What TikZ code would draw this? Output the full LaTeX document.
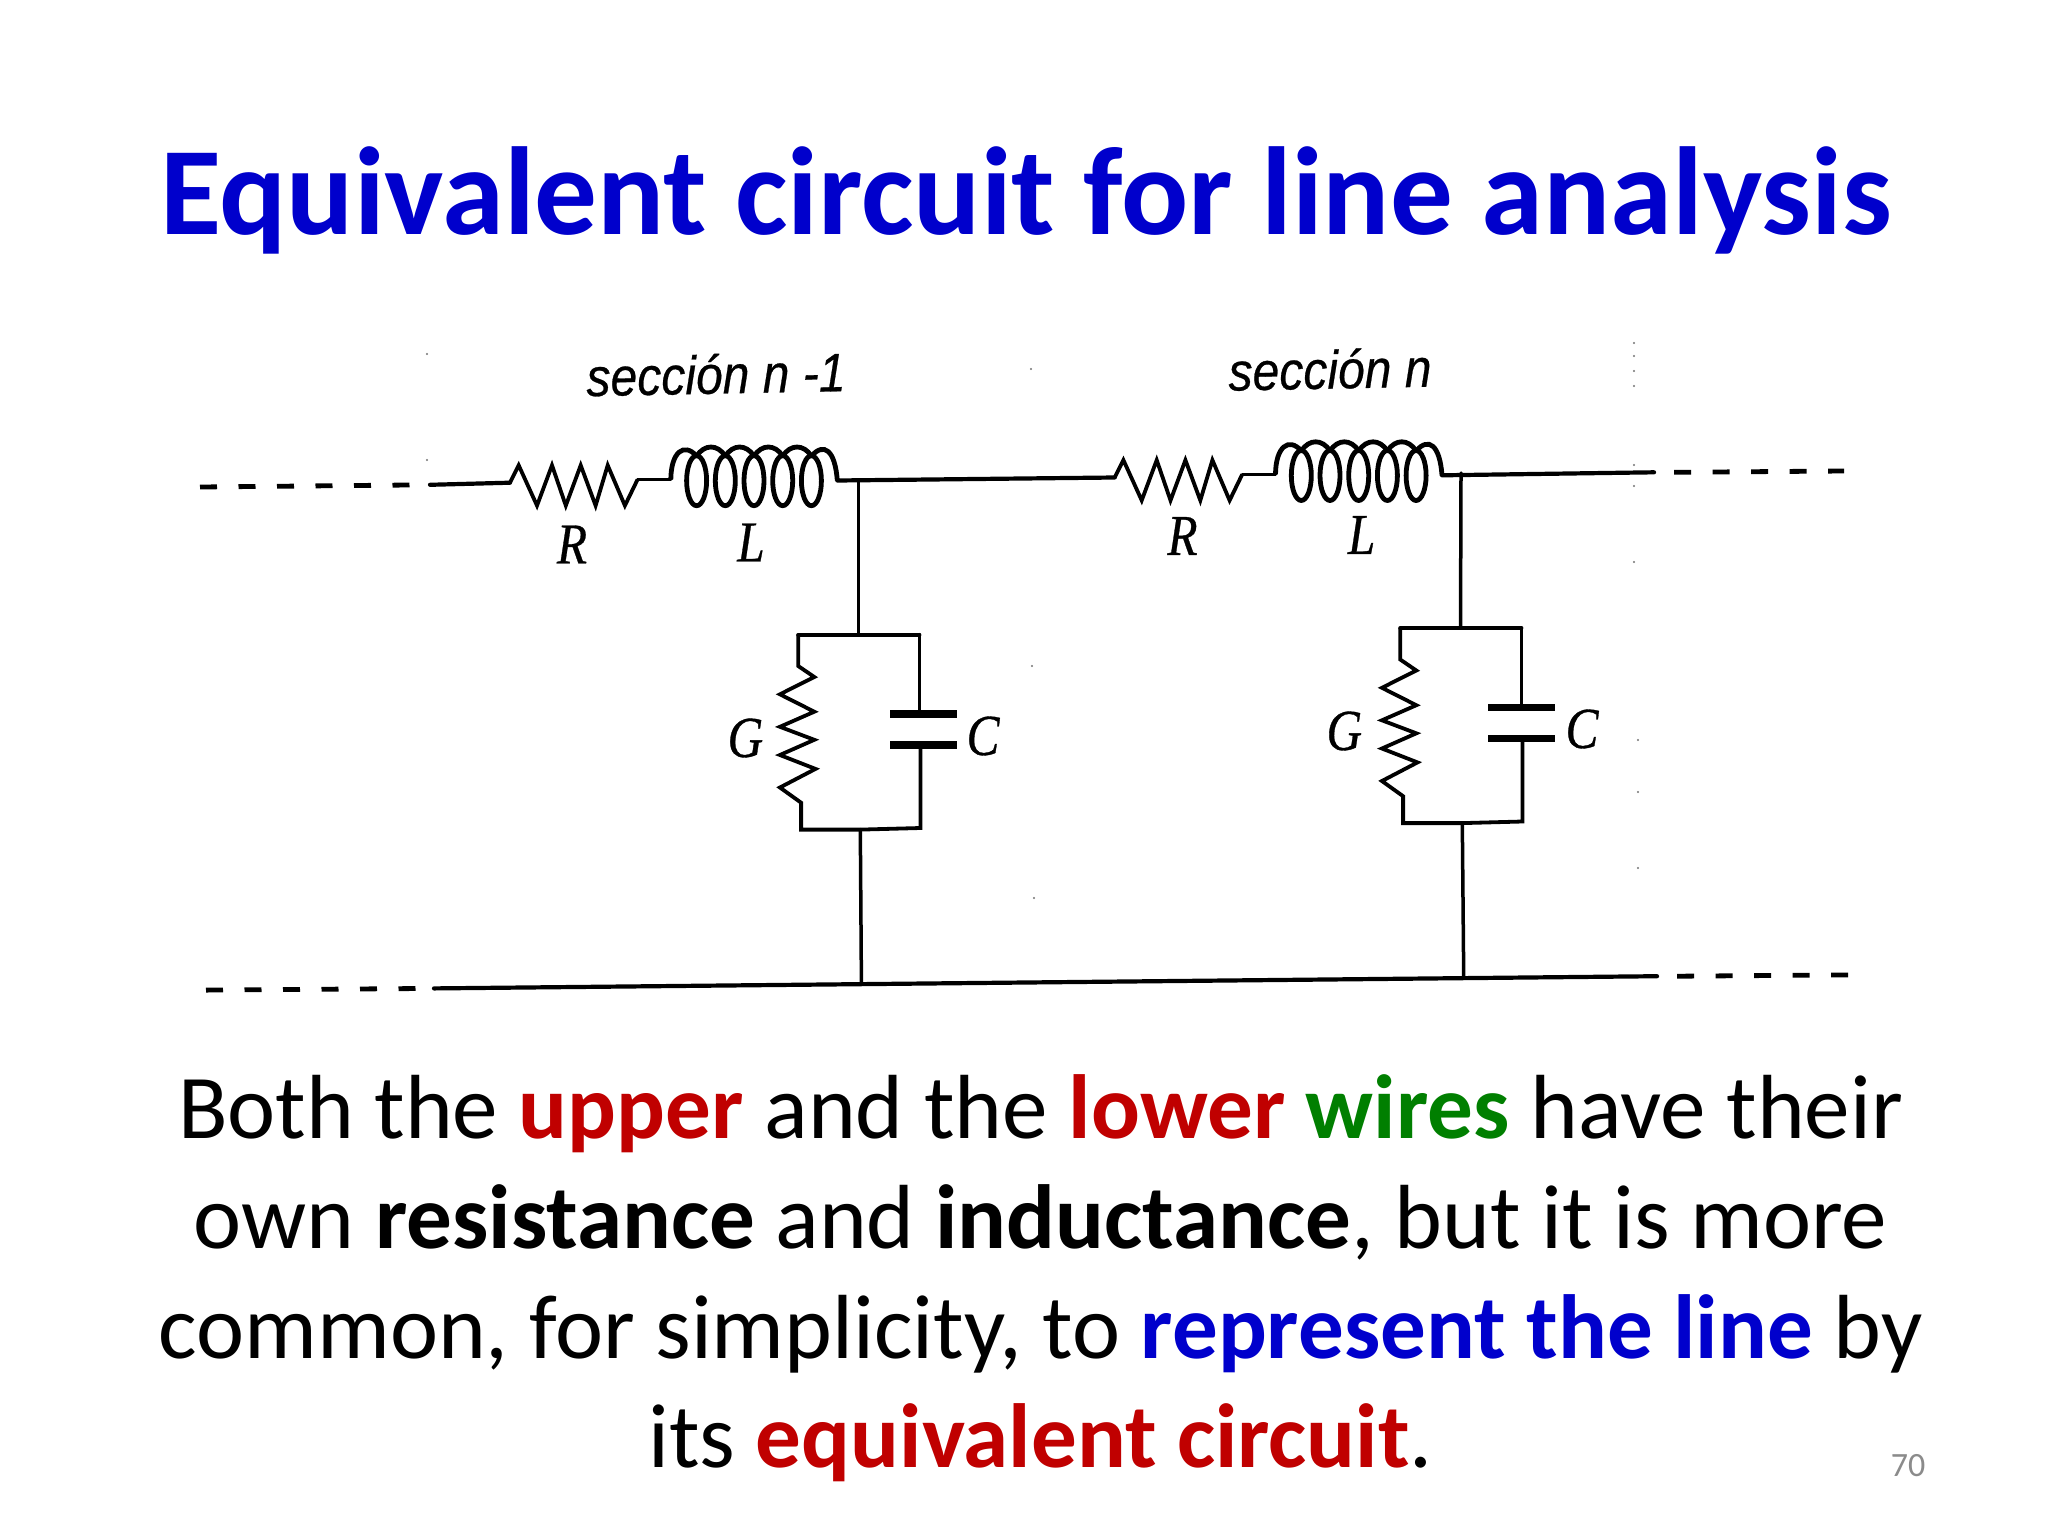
\documentclass[tikz,border=0pt]{standalone}
\usepackage{fontspec}
\setmainfont{Carlito}
\newfontfamily\circserif[FakeBold=0.6]{Liberation Serif}
\newfontfamily\circsans[FakeBold=0.5]{Liberation Sans}
\definecolor{titleblue}{HTML}{0000CC}
\definecolor{hotred}{HTML}{C00000}
\definecolor{wiregreen}{HTML}{007F00}
\definecolor{numgrey}{HTML}{8B8B8B}
\tikzset{
  wire/.style={line width=1.75pt,line cap=round,line join=round},
  mainwire/.style={line width=2.1pt,line cap=round},
  zig/.style={line width=1.9pt,line join=miter},
  coilline/.style={line width=2.4pt},
  plate/.style={line width=3.8pt},
  dashwire/.style={line width=2.4pt,dash pattern=on 8.5pt off 10.75pt},
  bodyline/.style={anchor=base,inner sep=0pt,font=\fontsize{45.55pt}{55pt}\selectfont},
  complabel/.style={inner sep=0pt,font=\fontsize{29pt}{32pt}\circserif\itshape,xscale=0.85,transform shape},
  seclabel/.style={inner sep=0pt,font=\fontsize{27pt}{30pt}\circsans\itshape,xscale=0.89,rotate=1,transform shape},
  speck/.style={fill=black!55,draw=none}
}
% series R-L group; #1 prefix, #2 dx, #3 dy
\newcommand{\seriesgroup}[3]{%
  \begin{scope}[shift={(#2,#3)}]
    \coordinate (#1in) at (510,482.7);
    \coordinate (#1rout) at (637.5,479.6);
    \coordinate (#1lin) at (670.8,479.6);
    \coordinate (#1out) at (837.3,480.5);
    \draw[zig] (#1in) -- (518.7,465.3) -- (537,505.6) -- (552,465.3) -- (565.8,505.6)
      -- (580.7,465.3) -- (595.6,505.6) -- (607.7,465.3) -- (624.9,505.6) -- (#1rout);
    \draw[wire] (#1rout) -- (#1lin);
    \draw[coilline] (#1lin) .. controls (671,452) and (684,442) .. (696.6,456);
    \foreach \xc in {696.6,725.3,754,782.7,811.4}{
      \draw[coilline] (\xc,480.7) ellipse[x radius=10,y radius=25];
    }
    \foreach \xc in {696.6,725.3,754,782.7}{
      \draw[coilline] (\xc,456) .. controls ({\xc+8},444) and ({\xc+20.7},444) .. ({\xc+28.7},456);
    }
    \draw[coilline] (811.4,456) .. controls (824,442) and (835,450) .. (#1out);
  \end{scope}
}
% shunt G-C group; #1 prefix, #2 dx, #3 dy, #4 plate dx
\newcommand{\shuntgroup}[4]{%
  \begin{scope}[shift={(#2,#3)}]
    \coordinate (#1top) at (858.5,634.5);
    \coordinate (#1bot) at (860.3,829.6);
    \draw[wire,line width=2pt] (798.2,634.5) -- (919.4,634.5);
    \draw[zig] (798.2,634.5) -- (798.2,666) -- (814.3,677) -- (779.9,694.3) -- (814.3,711.7)
      -- (779.9,726.8) -- (814.3,739.8) -- (779.9,755) -- (815.5,768.9) -- (779.9,787.5)
      -- (801.1,802.7) -- (801.1,829.6) -- (#1bot) -- (920.5,828) -- (920.5,745);
    \draw[wire] (919.4,634.5) -- (919.4,713.8);
    \draw[plate] ({890+#4},713.8) -- ({956.7+#4},713.8);
    \draw[plate] ({890+#4},745) -- ({956.7+#4},745);
  \end{scope}
}
\begin{document}
\begin{tikzpicture}[x=0.5pt,y=-0.5pt]
\useasboundingbox (0,0) rectangle (2048,1536);
\fill[white] (0,0) rectangle (2048,1536);

% title
\node[anchor=base,inner sep=0pt,text=titleblue,font=\fontsize{62.6pt}{70pt}\selectfont\bfseries] (title) at (1026,234) {Equivalent circuit for line analysis};

% circuit groups
\seriesgroup{a}{0}{0}
\seriesgroup{b}{604.7}{-5.2}
\shuntgroup{p}{0}{0}{0}
\shuntgroup{q}{602}{-6.5}{-4}

% wire ends and junctions
\coordinate (tl) at (430,484.8);
\coordinate (tld) at (200,487);
\coordinate (tr) at (1654,472.3);
\coordinate (trd) at (1844,471);
\coordinate (bl) at (434,988.4);
\coordinate (bld) at (206,990.1);
\coordinate (br) at (1657,976.2);
\coordinate (brd) at (1850,974.9);
\coordinate (ja) at (858.5,481);
\coordinate (jb) at (1461,473);
\coordinate (ka) at (861.4,982.7);
\coordinate (kb) at (1463.7,976.5);

% wires
\draw[mainwire] (tl) -- (ain);
\draw[mainwire] (aout) -- (bin);
\draw[mainwire] (bout) -- (tr);
\draw[mainwire] (bl) -- (br);
\draw[dashwire] (tld) -- (tl);
\draw[dashwire] (tr) ++(20,0) -- (trd);
\draw[dashwire] (bld) -- (bl);
\draw[dashwire] (br) ++(20,0) -- (brd);
\draw[wire] (ja) -- (ptop);
\draw[wire] (jb) -- (qtop);
\draw[wire] (pbot) -- (ka);
\draw[wire] (qbot) -- (kb);

% circuit labels
\node[seclabel] (s1) at (716,374) {sección n -1};
\node[seclabel] (s2) at (1330,369) {sección n};
\node[complabel] (r1) at (572,544.5) {R};
\node[complabel] (l1) at (751,542.5) {L};
\node[complabel] (g1) at (745.4,738) {G};
\node[complabel] (c1) at (983,736) {C};
\node[complabel] (r2) at (1182.5,536) {R};
\node[complabel] (l2) at (1361.6,535) {L};
\node[complabel] (g2) at (1344.3,731) {G};
\node[complabel] (c2) at (1582,729) {C};

% specks of the scan
\foreach \sx/\sy in {427/354,427/460,1031/369,1032/666,1034/898,
  1634/343,1634/356,1634/371,1634/386,1634/465,1634/486,1634/562,1638/740,1638/792,1638/868}{
  \fill[speck] (\sx,\sy) circle[radius=1.2];
}

% body text
\node[bodyline] (t1) at (1040.5,1138.5) {Both the \textcolor{hotred}{\bfseries upper} and the \textcolor{hotred}{\bfseries lower} \textcolor{wiregreen}{\bfseries wires} have their};
\node[bodyline] (t2) at (1040.5,1248.5) {own \textbf{resistance} and \textbf{inductance}, but it is more};
\node[bodyline] (t3) at (1040.5,1358.5) {common, for simplicity, to \textcolor{titleblue}{\bfseries represent the line} by};
\node[bodyline] (t4) at (1040.5,1467.5) {its \textcolor{hotred}{\bfseries equivalent circuit}.};
\node[anchor=base,inner sep=0pt,text=numgrey,font=\fontsize{17pt}{20pt}\selectfont] (num) at (1908,1476) {70};
\end{tikzpicture}
\end{document}
